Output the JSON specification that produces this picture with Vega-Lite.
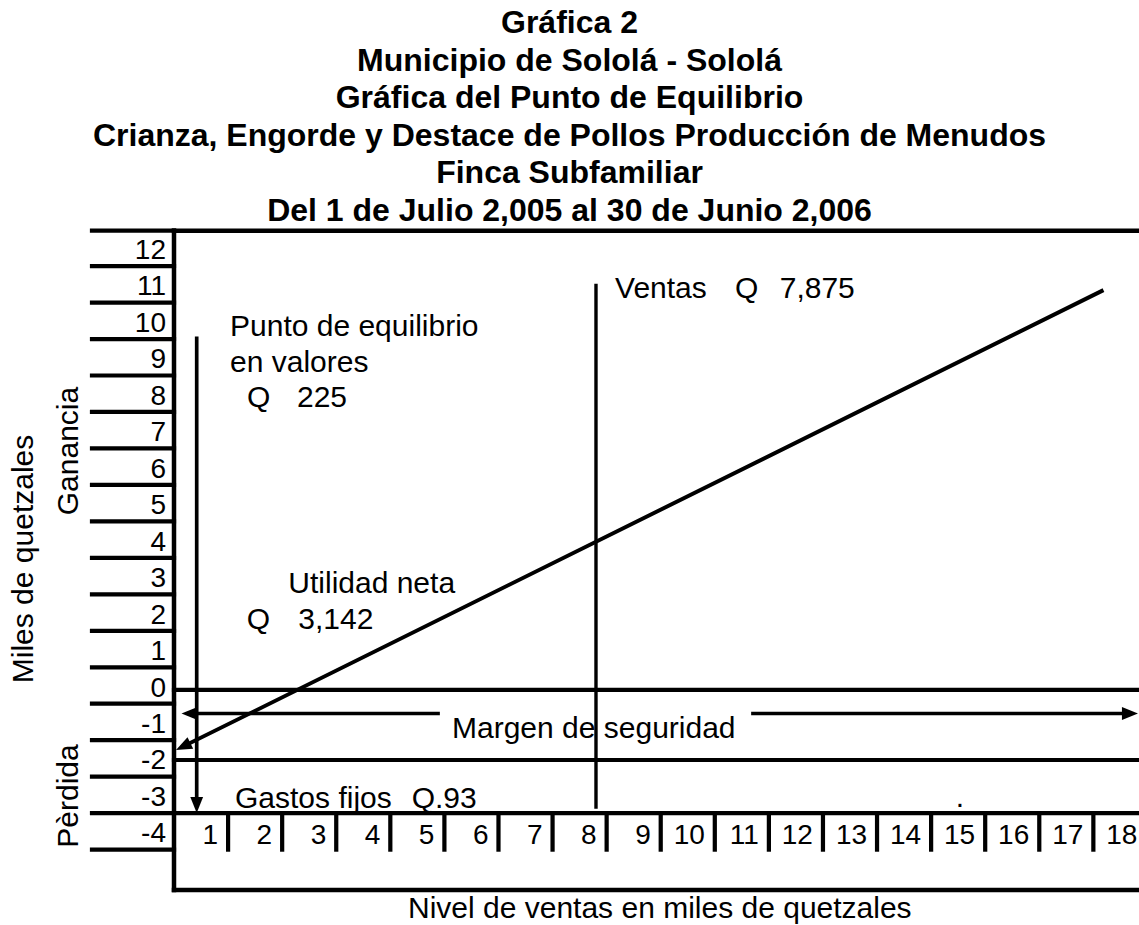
{
  "$schema": "https://vega.github.io/schema/vega-lite/v6.json",
  "width": 1139,
  "height": 694,
  "autosize": {"type": "none"},
  "padding": {"top": 231, "left": 0, "right": 0, "bottom": 0},
  "background": "white",
  "title": {
    "text": ["Gráfica 2", "Municipio de Sololá - Sololá", "Gráfica del Punto de Equilibrio", "Crianza, Engorde y Destace de Pollos Producción de Menudos", "Finca Subfamiliar", "Del 1 de Julio 2,005 al 30 de Junio 2,006"],
    "font": "Liberation Sans",
    "fontSize": 32,
    "fontWeight": "bold",
    "lineHeight": 37.5,
    "anchor": "middle",
    "baseline": "top",
    "offset": 0,
    "color": "black"
  },
  "config": {"font": "Liberation Sans", "view": {"stroke": null}},
  "datasets": {
    "lines": [
      {"role": "frame", "x": 0, "y": 12.47, "x2": 17.844, "y2": 12.47},
      {"role": "frame", "x": 0, "y": 12.47, "x2": 0, "y2": -5.61},
      {"role": "frame", "x": 0, "y": -5.61, "x2": 17.844, "y2": -5.61},
      {"role": "grid", "x": -1.5163, "y": 12.47, "x2": 0, "y2": 12.47},
      {"role": "grid", "x": -1.5163, "y": 11.5, "x2": 0, "y2": 11.5},
      {"role": "grid", "x": -1.5163, "y": 10.5, "x2": 0, "y2": 10.5},
      {"role": "grid", "x": -1.5163, "y": 9.5, "x2": 0, "y2": 9.5},
      {"role": "grid", "x": -1.5163, "y": 8.5, "x2": 0, "y2": 8.5},
      {"role": "grid", "x": -1.5163, "y": 7.5, "x2": 0, "y2": 7.5},
      {"role": "grid", "x": -1.5163, "y": 6.5, "x2": 0, "y2": 6.5},
      {"role": "grid", "x": -1.5163, "y": 5.5, "x2": 0, "y2": 5.5},
      {"role": "grid", "x": -1.5163, "y": 4.5, "x2": 0, "y2": 4.5},
      {"role": "grid", "x": -1.5163, "y": 3.5, "x2": 0, "y2": 3.5},
      {"role": "grid", "x": -1.5163, "y": 2.5, "x2": 0, "y2": 2.5},
      {"role": "grid", "x": -1.5163, "y": 1.5, "x2": 0, "y2": 1.5},
      {"role": "grid", "x": -1.5163, "y": 0.5, "x2": 0, "y2": 0.5},
      {"role": "grid", "x": -1.5163, "y": -0.5, "x2": 0, "y2": -0.5},
      {"role": "grid", "x": -1.5163, "y": -1.5, "x2": 0, "y2": -1.5},
      {"role": "grid", "x": -1.5163, "y": -2.5, "x2": 0, "y2": -2.5},
      {"role": "grid", "x": -1.5163, "y": -3.5, "x2": 0, "y2": -3.5},
      {"role": "grid", "x": -1.5163, "y": -4.5, "x2": 0, "y2": -4.5},
      {"role": "grid", "x": 0, "y": -0.123, "x2": 17.844, "y2": -0.123},
      {"role": "grid", "x": 0, "y": -2.043, "x2": 17.844, "y2": -2.043},
      {"role": "grid", "x": 0, "y": -3.5, "x2": 17.844, "y2": -3.5},
      {"role": "grid", "x": 1, "y": -3.5, "x2": 1, "y2": -4.5},
      {"role": "grid", "x": 2, "y": -3.5, "x2": 2, "y2": -4.5},
      {"role": "grid", "x": 3, "y": -3.5, "x2": 3, "y2": -4.5},
      {"role": "grid", "x": 4, "y": -3.5, "x2": 4, "y2": -4.5},
      {"role": "grid", "x": 5, "y": -3.5, "x2": 5, "y2": -4.5},
      {"role": "grid", "x": 6, "y": -3.5, "x2": 6, "y2": -4.5},
      {"role": "grid", "x": 7, "y": -3.5, "x2": 7, "y2": -4.5},
      {"role": "grid", "x": 8, "y": -3.5, "x2": 8, "y2": -4.5},
      {"role": "grid", "x": 9, "y": -3.5, "x2": 9, "y2": -4.5},
      {"role": "grid", "x": 10, "y": -3.5, "x2": 10, "y2": -4.5},
      {"role": "grid", "x": 11, "y": -3.5, "x2": 11, "y2": -4.5},
      {"role": "grid", "x": 12, "y": -3.5, "x2": 12, "y2": -4.5},
      {"role": "grid", "x": 13, "y": -3.5, "x2": 13, "y2": -4.5},
      {"role": "grid", "x": 14, "y": -3.5, "x2": 14, "y2": -4.5},
      {"role": "grid", "x": 15, "y": -3.5, "x2": 15, "y2": -4.5},
      {"role": "grid", "x": 16, "y": -3.5, "x2": 16, "y2": -4.5},
      {"role": "grid", "x": 17, "y": -3.5, "x2": 17, "y2": -4.5},
      {"role": "grid", "x": 18, "y": -3.5, "x2": 18, "y2": -4.5},
      {"role": "sales", "x": 0.1696, "y": -1.6715, "x2": 17.154, "y2": 10.817},
      {"role": "guide", "x": 0.4198, "y": 9.52, "x2": 0.4198, "y2": -3.277},
      {"role": "guide", "x": 0.2866, "y": -0.768, "x2": 4.882, "y2": -0.768},
      {"role": "guide", "x": 10.706, "y": -0.768, "x2": 17.677, "y2": -0.768},
      {"role": "ventas", "x": 7.803, "y": 10.97, "x2": 7.803, "y2": -3.33}
    ],
    "arrows": [
      {"x": 0.4198, "y": -3.277, "angle": 90},
      {"x": 0.1696, "y": -1.6715, "angle": 153.6},
      {"x": 0.2866, "y": -0.768, "angle": 180},
      {"x": 17.677, "y": -0.768, "angle": 0}
    ],
    "ylabels": [
      {"x": 0, "y": 12, "label": "12"},
      {"x": 0, "y": 11, "label": "11"},
      {"x": 0, "y": 10, "label": "10"},
      {"x": 0, "y": 9, "label": "9"},
      {"x": 0, "y": 8, "label": "8"},
      {"x": 0, "y": 7, "label": "7"},
      {"x": 0, "y": 6, "label": "6"},
      {"x": 0, "y": 5, "label": "5"},
      {"x": 0, "y": 4, "label": "4"},
      {"x": 0, "y": 3, "label": "3"},
      {"x": 0, "y": 2, "label": "2"},
      {"x": 0, "y": 1, "label": "1"},
      {"x": 0, "y": 0, "label": "0"},
      {"x": 0, "y": -1, "label": "-1"},
      {"x": 0, "y": -2, "label": "-2"},
      {"x": 0, "y": -3, "label": "-3"},
      {"x": 0, "y": -4, "label": "-4"}
    ],
    "xlabels": [
      {"x": 1, "y": -4, "label": "1"},
      {"x": 2, "y": -4, "label": "2"},
      {"x": 3, "y": -4, "label": "3"},
      {"x": 4, "y": -4, "label": "4"},
      {"x": 5, "y": -4, "label": "5"},
      {"x": 6, "y": -4, "label": "6"},
      {"x": 7, "y": -4, "label": "7"},
      {"x": 8, "y": -4, "label": "8"},
      {"x": 9, "y": -4, "label": "9"},
      {"x": 10, "y": -4, "label": "10"},
      {"x": 11, "y": -4, "label": "11"},
      {"x": 12, "y": -4, "label": "12"},
      {"x": 13, "y": -4, "label": "13"},
      {"x": 14, "y": -4, "label": "14"},
      {"x": 15, "y": -4, "label": "15"},
      {"x": 16, "y": -4, "label": "16"},
      {"x": 17, "y": -4, "label": "17"},
      {"x": 18, "y": -4, "label": "18"}
    ],
    "notes": [
      {"x": 1.0355, "y": 9.885, "label": "Punto de equilibrio"},
      {"x": 1.0355, "y": 8.898, "label": "en valores"},
      {"x": 1.35, "y": 7.938, "label": "Q"},
      {"x": 2.274, "y": 7.938, "label": "225"},
      {"x": 8.155, "y": 10.927, "label": "Ventas"},
      {"x": 10.374, "y": 10.927, "label": "Q"},
      {"x": 11.2, "y": 10.927, "label": "7,875"},
      {"x": 2.1135, "y": 2.846, "label": "Utilidad neta"},
      {"x": 1.344, "y": 1.843, "label": "Q"},
      {"x": 2.298, "y": 1.843, "label": "3,142"},
      {"x": 5.141, "y": -1.138, "label": "Margen de seguridad"},
      {"x": 1.128, "y": -3.049, "label": "Gastos fijos"},
      {"x": 4.395, "y": -3.049, "label": "Q.93"},
      {"x": 4.327, "y": -6.06, "label": "Nivel de ventas en miles de quetzales"}
    ],
    "vtitles": [
      {"x": -2.607, "y": 3.469, "label": "Miles de quetzales"},
      {"x": -1.775, "y": 6.43, "label": "Ganancia"},
      {"x": -1.775, "y": -3.03, "label": "Pèrdida"}
    ],
    "dots": [
      {"x": 14.534, "y": -3.331, "label": "."}
    ]
  },
  "encoding": {
    "x": {"field": "x", "type": "quantitative", "scale": {"domain": [-3.2175, 17.844], "nice": false, "zero": false}, "axis": null},
    "y": {"field": "y", "type": "quantitative", "scale": {"domain": [-6.567, 12.4623], "nice": false, "zero": false}, "axis": null}
  },
  "layer": [
    {
      "data": {"name": "lines"},
      "mark": {"type": "rule", "color": "black", "strokeCap": "square"},
      "encoding": {
        "x2": {"field": "x2"},
        "y2": {"field": "y2"},
        "strokeWidth": {"field": "role", "type": "nominal", "scale": {"domain": ["frame", "grid", "sales", "guide", "ventas"], "range": [4.5, 3.4, 3, 2.2, 1.4]}, "legend": null}
      }
    },
    {
      "data": {"name": "arrows"},
      "mark": {"type": "point", "filled": true, "color": "black", "opacity": 1, "size": 256, "strokeWidth": 0, "shape": "M1,0L-1,-0.8L-1,0.8Z"},
      "encoding": {
        "angle": {"field": "angle", "type": "quantitative", "scale": null}
      }
    },
    {
      "data": {"name": "ylabels"},
      "mark": {"type": "text", "align": "right", "baseline": "middle", "dx": -8, "dy": 3, "fontSize": 28, "color": "black"},
      "encoding": {"text": {"field": "label"}}
    },
    {
      "data": {"name": "xlabels"},
      "mark": {"type": "text", "align": "right", "baseline": "middle", "dx": -10, "dy": 5, "fontSize": 28, "color": "black"},
      "encoding": {"text": {"field": "label"}}
    },
    {
      "data": {"name": "notes"},
      "mark": {"type": "text", "align": "left", "baseline": "middle", "dy": 2, "fontSize": 30, "color": "black"},
      "encoding": {"text": {"field": "label"}}
    },
    {
      "data": {"name": "vtitles"},
      "mark": {"type": "text", "align": "center", "baseline": "alphabetic", "angle": 270, "fontSize": 30, "color": "black"},
      "encoding": {"text": {"field": "label"}}
    },
    {
      "data": {"name": "dots"},
      "mark": {"type": "text", "align": "center", "baseline": "alphabetic", "fontSize": 30, "color": "black"},
      "encoding": {"text": {"field": "label"}}
    }
  ]
}
